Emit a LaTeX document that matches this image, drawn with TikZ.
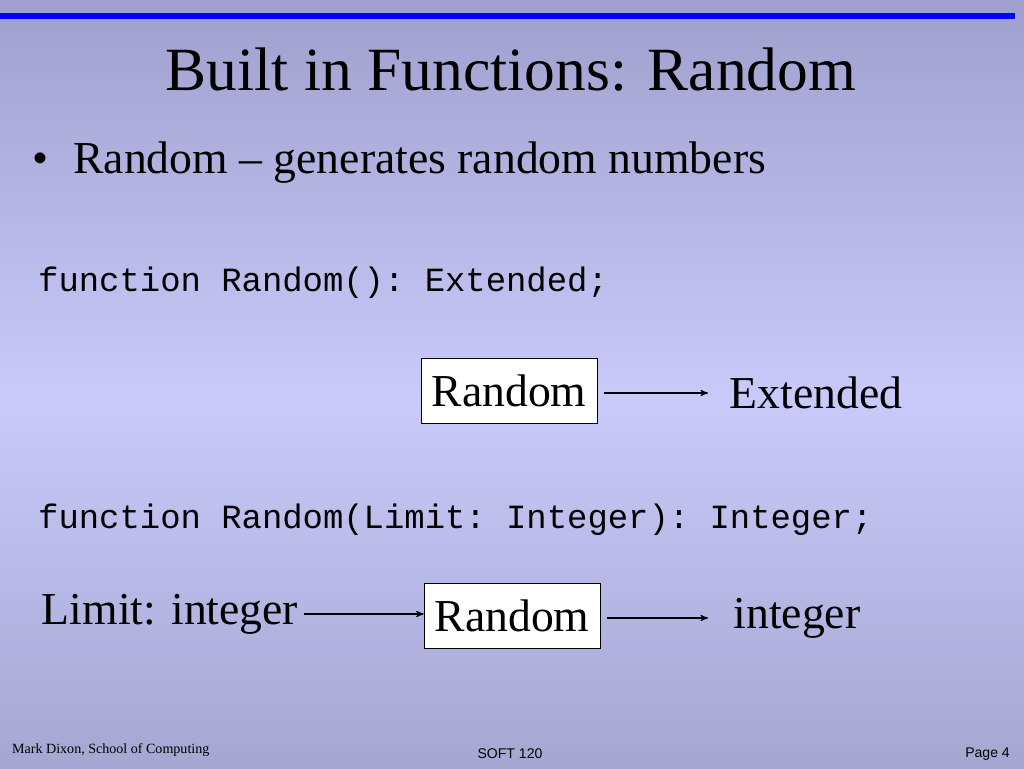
\documentclass[tikz,border=0pt]{standalone}
\usepackage{fontspec}
\setmainfont{Liberation Serif}
\setmonofont{Liberation Mono}
\setsansfont{Liberation Sans}
\usetikzlibrary{positioning,arrows}

\tikzset{
  fnbox/.style={draw,fill=white,minimum width=3.52cm,minimum height=1.3cm,inner sep=0pt,font=\fontsize{26}{30}\selectfont},
  fnlabel/.style={font=\fontsize{26}{30}\selectfont},
  codeline/.style={anchor=west,font=\ttfamily\fontsize{19.3}{22}\selectfont},
  footer/.style={font=\fontsize{8}{10}\selectfont},
  flow/.style={->,>=stealth',shorten >=0pt,line width=0.6pt}
}

\begin{document}
\begin{tikzpicture}[x=0.02cm,y=-0.02cm]
  % slide background
  \shade[top color={rgb,255:red,160;green,160;blue,206},bottom color={rgb,255:red,202;green,202;blue,250}]
    (0,0) rectangle (1024,400);
  \shade[top color={rgb,255:red,202;green,202;blue,250},bottom color={rgb,255:red,166;green,166;blue,210}]
    (0,400) rectangle (1024,768);
  \useasboundingbox (0,0) rectangle (1024,768);
  \draw[blue,line width=3pt] (0,16) -- (1015,16);

  \node (title) at (511,70) {\fontsize{35}{40}\selectfont Built in Functions: Random};
  \node[anchor=west] (bullet) at (26,163) {\fontsize{26}{30}\selectfont\textbullet\hspace{0.55em}Random -- generates random numbers};

  \node[codeline] (code1) at (32,283) {function Random(): Extended;};
  \node[codeline] (code2) at (32,520) {function Random(Limit: Integer): Integer;};

  % first call
  \node[fnbox] (rnd1) at (509,391) {Random};
  \node[fnlabel] (ext) at (816,393) {Extended};
  \draw[flow] (rnd1.east) ++(7,2) coordinate (a1) -- (708,393) coordinate (b1);

  % second call
  \node[fnbox] (rnd2) at (512,616) {Random};
  \node[fnlabel] (lim) at (170,614) {Limit: integer};
  \node[fnlabel] (int) at (797,618) {integer};
  \draw[flow] (lim.east) -- (rnd2.west |- lim.east);
  \draw[flow] (rnd2.east) ++(7,2) coordinate (a2) -- (708,618) coordinate (b2);

  \node[footer,anchor=west] (author) at (6,750) {Mark Dixon, School of Computing};
  \node[footer] (course) at (510,754) {\sffamily SOFT 120};
  \node[footer,anchor=east] (page) at (1016,754) {\sffamily Page 4};
\end{tikzpicture}
\end{document}
